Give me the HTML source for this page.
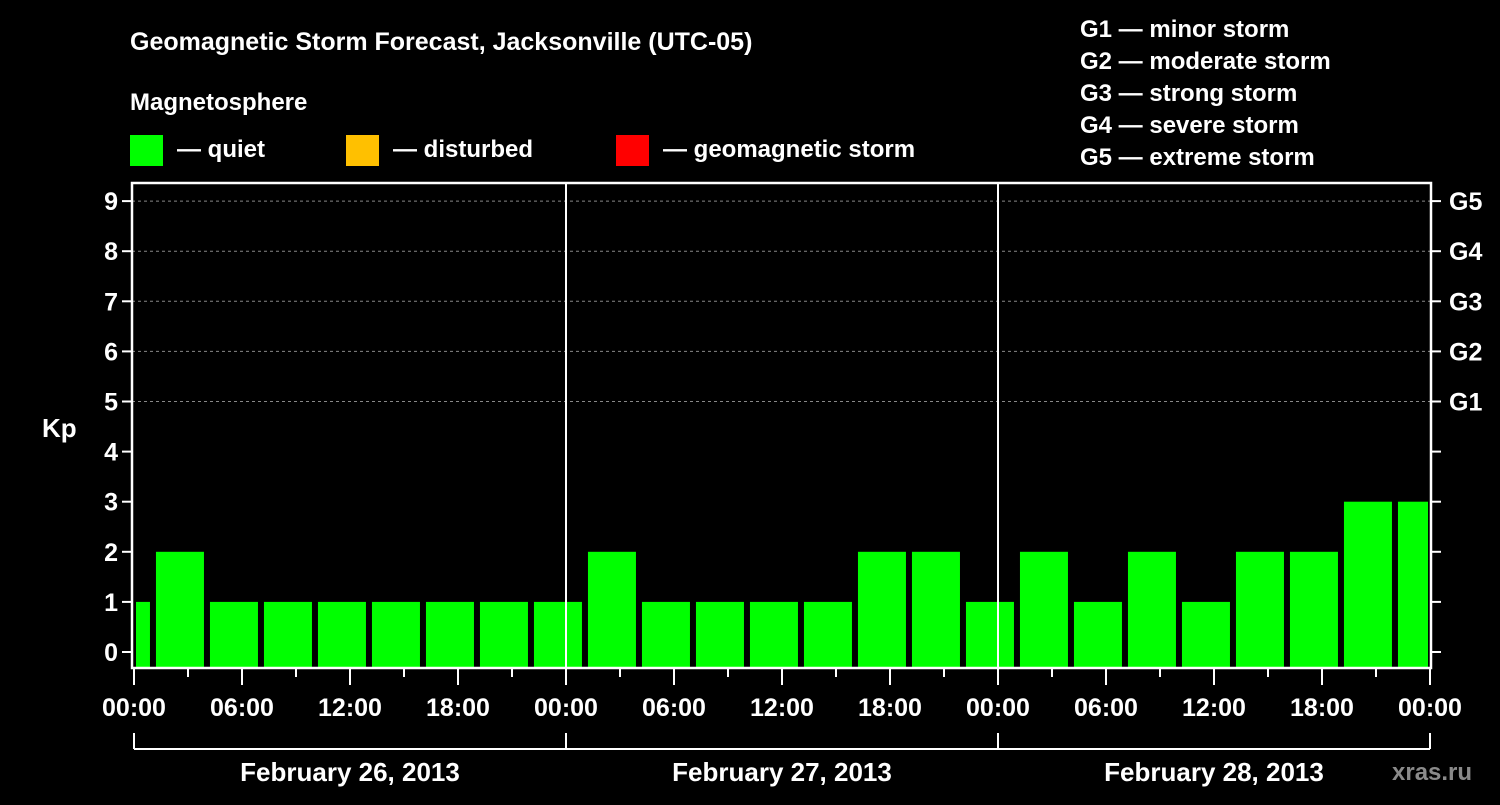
<!DOCTYPE html>
<html><head><meta charset="utf-8"><style>
body{margin:0;background:#000;width:1500px;height:800px;overflow:hidden}
svg text{font-family:"Liberation Sans",sans-serif;font-weight:bold;fill:#fff}
</style></head><body>
<svg id="c" width="1500" height="800">
<text x="130" y="50" font-size="25">Geomagnetic Storm Forecast, Jacksonville (UTC-05)</text>
<text x="130" y="110" font-size="24">Magnetosphere</text>
<g><rect x="130" y="135" width="33" height="31" fill="#00ff00"/><text x="177" y="157" font-size="24">— quiet</text></g>
<g><rect x="346" y="135" width="33" height="31" fill="#ffc000"/><text x="393" y="157" font-size="24">— disturbed</text></g>
<g><rect x="616" y="135" width="33" height="31" fill="#ff0000"/><text x="663" y="157" font-size="24">— geomagnetic storm</text></g>
<g font-size="24">
<text x="1080" y="37">G1 — minor storm</text><text x="1080" y="69">G2 — moderate storm</text><text x="1080" y="101">G3 — strong storm</text><text x="1080" y="133">G4 — severe storm</text><text x="1080" y="165">G5 — extreme storm</text></g>
<text x="42" y="437" font-size="26">Kp</text>
<text x="1392" y="780" font-size="24" fill="#888" style="fill:#8a8a8a">xras.ru</text>
<g id="plot"></g>
</svg>
<script>
const kpValues=[1,2,1,1,1,1,1,1,1,2,1,1,1,1,2,2,1,2,1,2,1,2,2,3,3];
const dayLabels=["February 26, 2013","February 27, 2013","February 28, 2013"];
const timeLabels=["00:00","06:00","12:00","18:00"];
const gLabels=["G1","G2","G3","G4","G5"];
const NS="http://www.w3.org/2000/svg";
const g=document.getElementById('plot');
const X0=134,PX_H=18,Y0=652,PX_K=50.1,L=132,R=1431,T=183,B=668;
const xs=h=>X0+h*PX_H, ys=k=>Y0-k*PX_K;
function el(t,a,p){const e=document.createElementNS(NS,t);for(const k in a)e.setAttribute(k,a[k]);(p||g).appendChild(e);return e;}
// grid
for(let k=5;k<=9;k++){const l=el('line',{x1:L,x2:R,y1:ys(k),y2:ys(k),stroke:'#888','stroke-dasharray':'3,3','stroke-width':1});

}
// bars
kpValues.forEach((v,i)=>{const hs=(i-1)*3+1.22;let x1=xs(hs),x2=xs(hs)+48;x1=Math.max(x1,L+4);x2=Math.min(x2,R-3);
const b=el('rect',{x:x1,y:ys(v),width:x2-x1,height:B-ys(v),fill:'#00ff00'});

});
// day separators
[1,2].forEach(d=>{const l=el('line',{x1:xs(d*24),x2:xs(d*24),y1:T,y2:B,stroke:'#fff','stroke-width':2});

});
// frame
const fr=el('rect',{x:L,y:T,width:R-L,height:B-T,fill:'none',stroke:'#fff','stroke-width':2.5});


// y ticks
for(let k=0;k<=9;k++){el('line',{x1:L-10,x2:L,y1:ys(k),y2:ys(k),stroke:'#fff','stroke-width':2});
el('line',{x1:R,x2:R+10,y1:ys(k),y2:ys(k),stroke:'#fff','stroke-width':2});
const t=el('text',{x:L-14,y:ys(k)+9,'font-size':25,'text-anchor':'end'});t.textContent=k;


if(k>=5){const gt=el('text',{x:R+18,y:ys(k)+9,'font-size':25});gt.textContent=gLabels[k-5];

}}
// x ticks
for(let h=0;h<=72;h+=3){const major=h%6===0;el('line',{x1:xs(h),x2:xs(h),y1:B,y2:B+(major?17:9),stroke:'#fff','stroke-width':2});
if(major){const t=el('text',{x:xs(h),y:716,'font-size':25,'text-anchor':'middle'});t.textContent=timeLabels[(h%24)/6];

}}
// day brackets
el('line',{x1:xs(0),x2:xs(72),y1:749,y2:749,stroke:'#fff','stroke-width':2});
for(let d=0;d<=3;d++)el('line',{x1:xs(d*24),x2:xs(d*24),y1:733,y2:749,stroke:'#fff','stroke-width':2});
dayLabels.forEach((s,d)=>{const t=el('text',{x:xs(d*24+12),y:781,'font-size':26,'text-anchor':'middle'});t.textContent=s;

});
</script>
</body></html>
